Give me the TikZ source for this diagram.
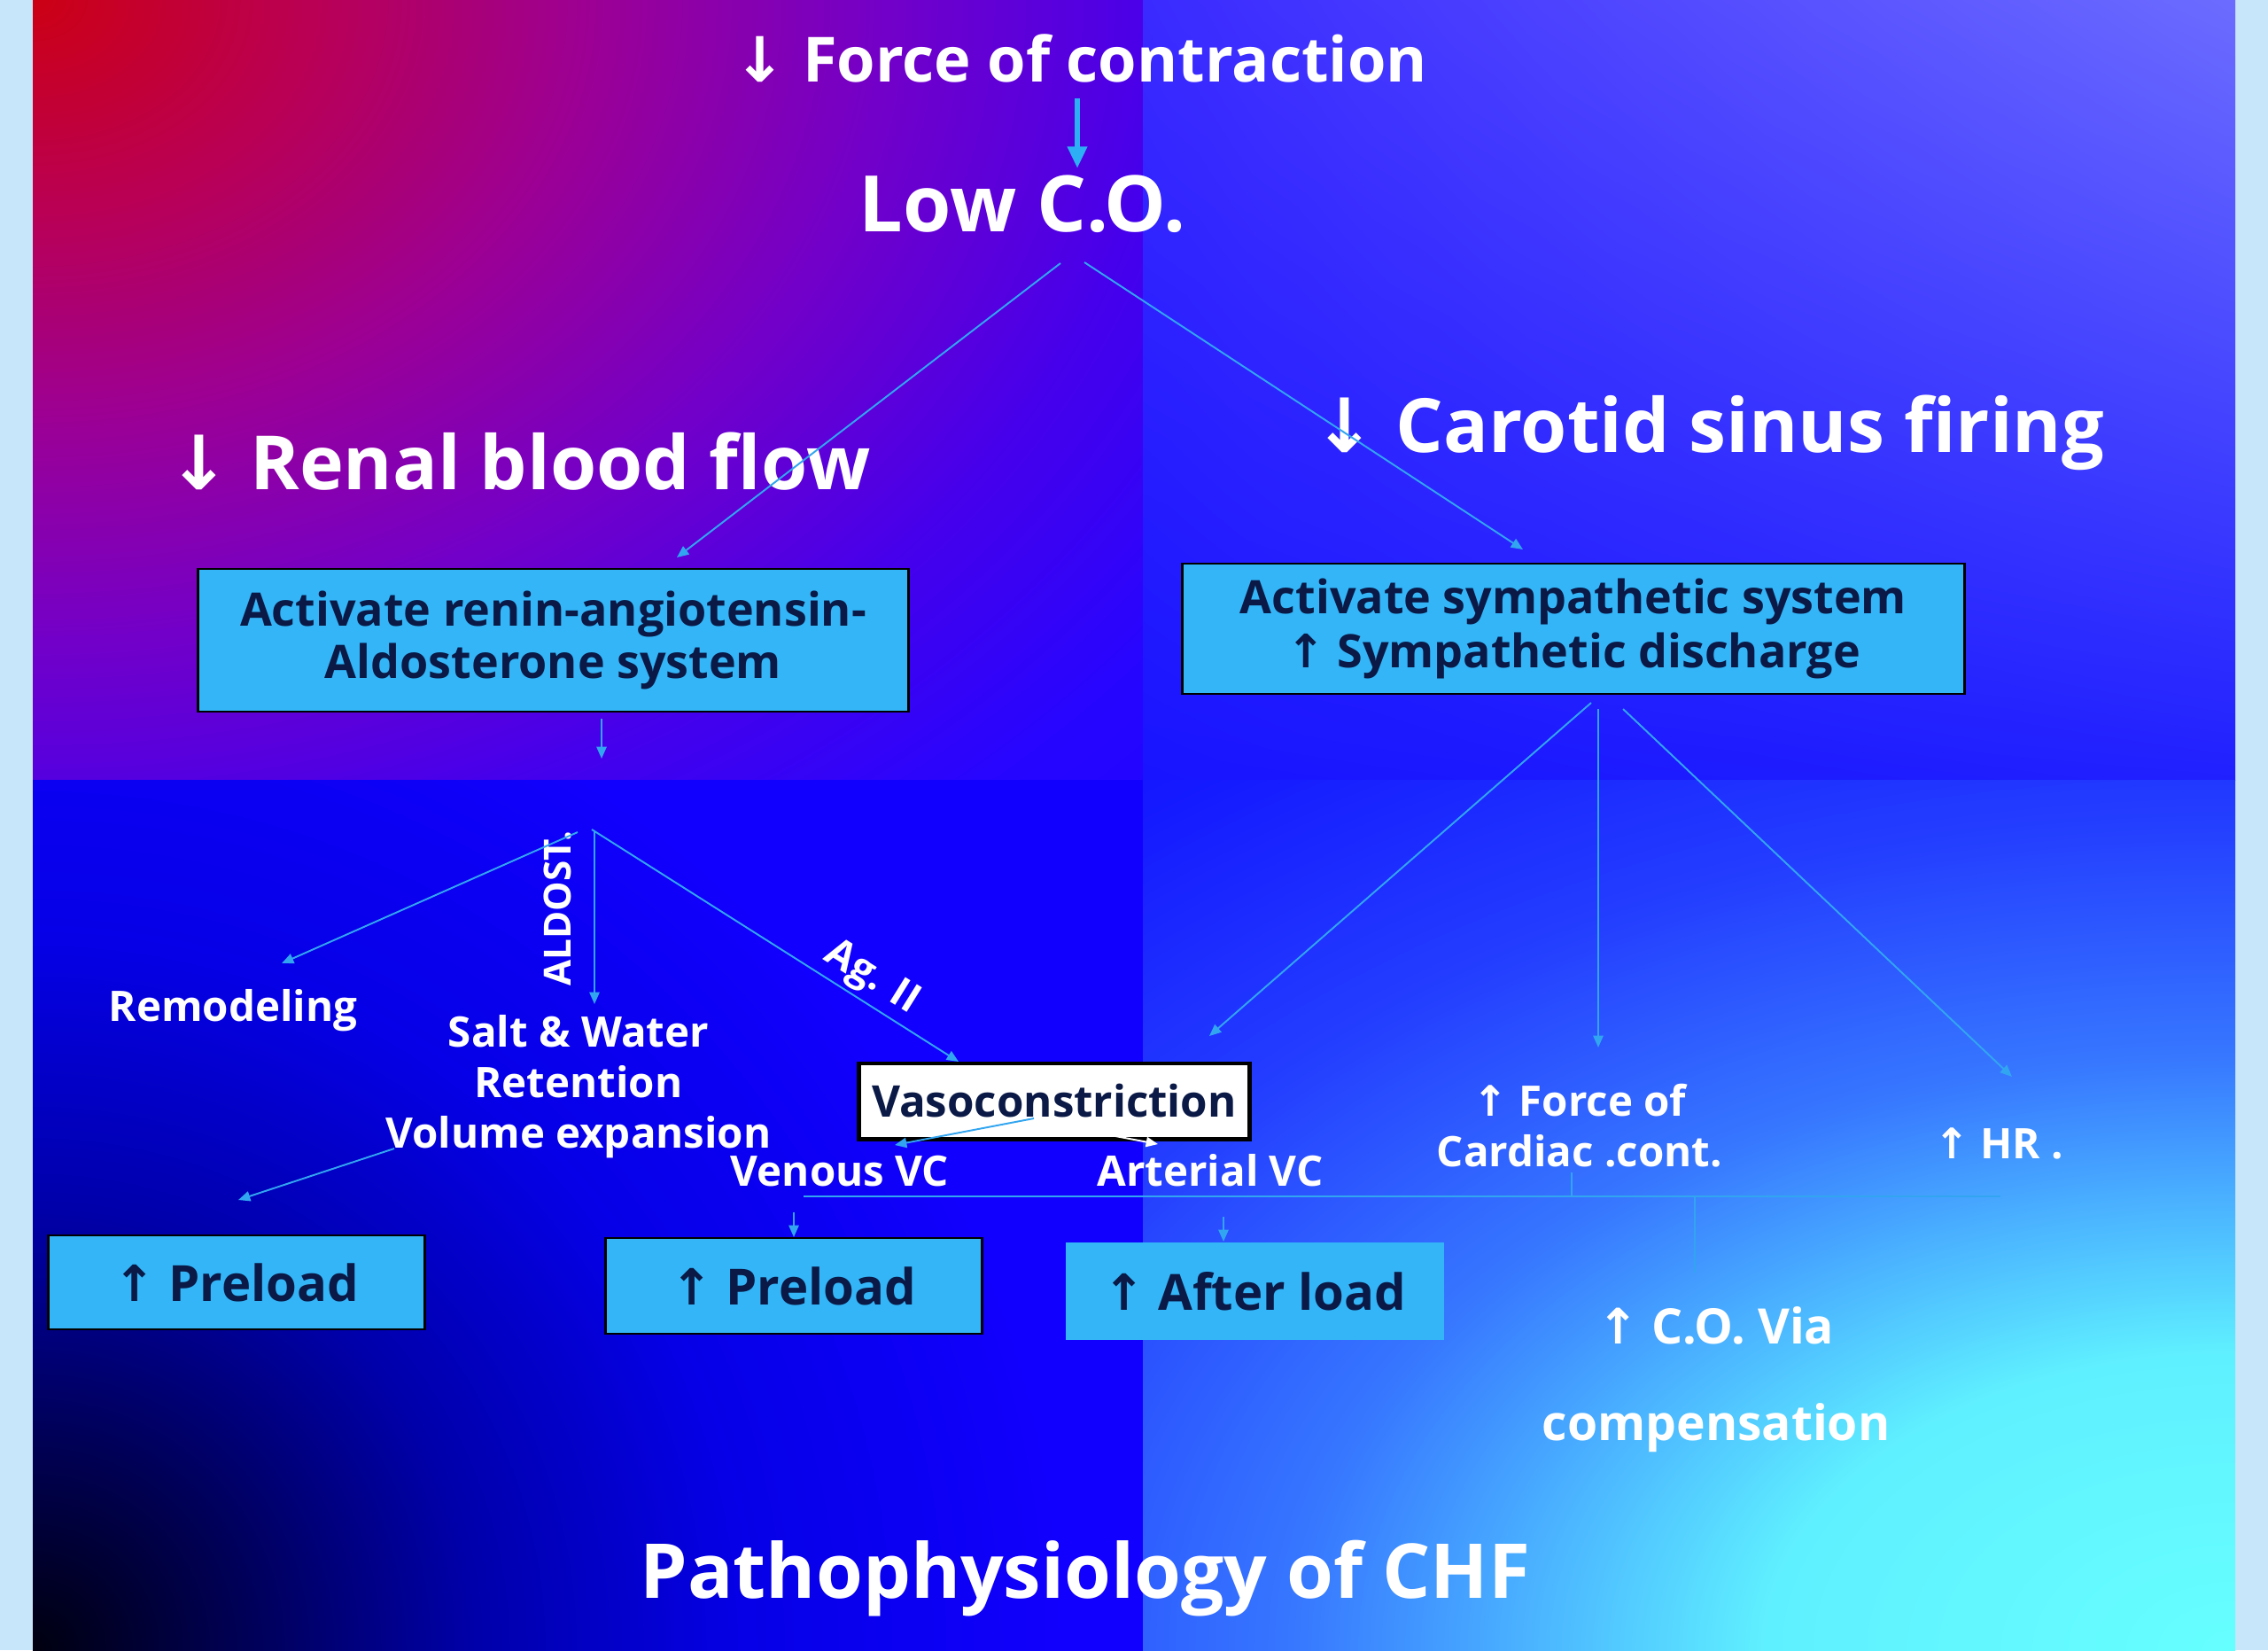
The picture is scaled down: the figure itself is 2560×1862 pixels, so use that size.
\documentclass[tikz,border=0pt]{standalone}
\usepackage{fontspec}
\setmainfont{Open Sans}
\newfontfamily\arrfont{DejaVu Sans}
\usetikzlibrary{arrows.meta,shadings}
\definecolor{strip}{RGB}{200,230,250}
\definecolor{boxfill}{RGB}{51,181,247}
\definecolor{boxtext}{RGB}{10,25,70}
\definecolor{connc}{RGB}{50,165,240}
\definecolor{bigc}{RGB}{45,175,245}
% top-left radial
\definecolor{tlA}{RGB}{204,0,20}
\definecolor{tlB}{RGB}{185,0,85}
\definecolor{tlC}{RGB}{155,0,150}
\definecolor{tlD}{RGB}{115,0,200}
\definecolor{tlE}{RGB}{70,0,235}
\definecolor{tlF}{RGB}{38,5,255}
\definecolor{tlG}{RGB}{25,5,255}
% bottom-left radial
\definecolor{blA}{RGB}{0,0,15}
\definecolor{blB}{RGB}{0,0,90}
\definecolor{blC}{RGB}{0,0,170}
\definecolor{blD}{RGB}{5,0,230}
\definecolor{blE}{RGB}{18,0,255}
% bottom-right radial
\definecolor{brA}{RGB}{102,255,255}
\definecolor{brB}{RGB}{95,240,255}
\definecolor{brC}{RGB}{55,120,255}
\definecolor{brD}{RGB}{35,60,255}
\definecolor{brE}{RGB}{20,25,255}
\definecolor{brF}{RGB}{16,16,255}
% top-right bilinear
\definecolor{trA}{RGB}{58,42,255}
\definecolor{trB}{RGB}{108,108,255}
\definecolor{trC}{RGB}{24,20,255}
\definecolor{trD}{RGB}{32,32,255}
\pgfdeclareradialshading{tlcorner}{\pgfpoint{0bp}{0bp}}{color(0bp)=(tlA); color(4bp)=(tlB); color(8bp)=(tlC); color(12bp)=(tlD); color(16bp)=(tlE); color(20bp)=(tlF); color(25bp)=(tlG); color(50bp)=(tlG)}
\pgfdeclareradialshading{blcorner}{\pgfpoint{0bp}{0bp}}{color(0bp)=(blA); color(3.7bp)=(blB); color(7.35bp)=(blC); color(11.8bp)=(blD); color(17.6bp)=(blE); color(50bp)=(blE)}
\pgfdeclareradialshading{brcorner}{\pgfpoint{0bp}{0bp}}{color(0bp)=(brA); color(5.75bp)=(brB); color(11.5bp)=(brC); color(16.35bp)=(brD); color(21.15bp)=(brE); color(25bp)=(brF); color(50bp)=(brF)}
\newcommand\dnar{{\arrfont\char"2193}}
\newcommand\upar{{\arrfont\char"2191}}
\begin{document}
\begin{tikzpicture}[x=0.01cm,y=-0.01cm,
  wt/.style={text=white,inner sep=0pt,anchor=base},
  f21/.style={font=\bfseries\fontsize{20}{24}\selectfont},
  f25/.style={font=\bfseries\fontsize{25}{30}\selectfont},
  f24/.style={font=\bfseries\fontsize{24}{29}\selectfont},
  f26/.style={font=\bfseries\fontsize{24.3}{29}\selectfont},
  f13/.style={font=\bfseries\fontsize{13.5}{16.2}\selectfont},
  f17/.style={font=\bfseries\fontsize{15.7}{31}\selectfont},
  arrowline/.style={draw=connc,line width=0.55pt,-{Triangle[length=3.8pt,width=3.2pt]}},
  plainline/.style={draw=connc,line width=0.55pt},
  bluebox/.style={fill=boxfill,draw=black,line width=0.8pt,text=boxtext,align=center,inner sep=0pt},
]
\useasboundingbox (0,0) rectangle (2560,1862);
\fill[strip] (0,0) rectangle (2560,1862);
% background quadrants
\begin{scope}
  \clip (37,0) rectangle (1290,880);
  \shade[shading=tlcorner] (37,0) ellipse [x radius=20cm, y radius=15cm];
\end{scope}
\shade[upper left=trA, upper right=trB, lower left=trC, lower right=trD]
  (1290,0) rectangle (2523,880);
\begin{scope}
  \clip (37,880) rectangle (1290,1862);
  \shade[shading=blcorner] (37,1862) circle [radius=17cm];
\end{scope}
\begin{scope}
  \clip (1290,880) rectangle (2523,1862);
  \shade[shading=brcorner] (2523,1862) ellipse [x radius=23cm, y radius=14.5cm];
\end{scope}

% titles
\node[wt,f21] (force) at (1220,92) {\dnar\ Force of contraction};
\node[wt,f25] (low) at (1154,261) {Low C.O.};
\node[wt,f24] (renal) at (586,552) {\dnar\ Renal blood flow};
\node[wt,f24] (carotid) at (1929,510) {\dnar\ Carotid sinus firing};

% boxes
\node[bluebox,minimum width=8.01cm,minimum height=1.61cm,font=\bfseries\fontsize{14.8}{16.8}\selectfont] (raas) at (624.5,722.5)
  {Activate renin-angiotensin-\\Aldosterone system};
\node[bluebox,minimum width=8.82cm,minimum height=1.47cm,font=\bfseries\fontsize{14.8}{17.6}\selectfont] (symp) at (1776,709.5)
  {Activate sympathetic system\\\upar\ Sympathetic discharge};

% RAAS effects
\node[wt,f13] (remod) at (263,1152) {Remodeling};
\node[wt,f13,anchor=center,align=center] (salt) at (653,1226) {Salt \& Water\\Retention\\Volume expansion};
\node[text=white,inner sep=0pt,rotate=90,font=\bfseries\fontsize{12}{14}\selectfont] (aldost) at (629,1025) {ALDOST.};
\node[text=white,inner sep=0pt,rotate=-32,font=\bfseries\fontsize{13}{15}\selectfont] (ag) at (984,1104) {Ag. II};
\node[fill=white,draw=black,line width=1.4pt,minimum width=4.40cm,minimum height=0.85cm,inner sep=0pt,text=boxtext,
      font=\bfseries\fontsize{14}{16}\selectfont] (vaso) at (1190,1242.5) {Vasoconstriction};
\node[wt,f13] (venous) at (948,1338) {Venous VC};
\node[wt,f13] (arterial) at (1366,1338) {Arterial VC};

% result boxes
\node[bluebox,minimum width=4.24cm,minimum height=1.06cm,font=\bfseries\fontsize{16}{19}\selectfont] (pre1) at (267,1447) {\upar\ Preload};
\node[bluebox,minimum width=4.24cm,minimum height=1.08cm,font=\bfseries\fontsize{16}{19}\selectfont] (pre2) at (896,1451) {\upar\ Preload};
\node[bluebox,draw=none,minimum width=4.27cm,minimum height=1.10cm,font=\bfseries\fontsize{16}{19}\selectfont] (after) at (1416.5,1457) {\upar\ After load};

% sympathetic effects
\node[wt,f13,anchor=center,align=center] (forcec) at (1783,1270) {\upar\ Force of\\Cardiac .cont.};
\node[wt,f13] (hr) at (2256,1307) {\upar\ HR .};
\node[wt,f17,anchor=center,align=center] (covia) at (1937,1557) {\upar\ C.O. Via\\compensation};

\node[wt,f26] (title) at (1225,1803) {Pathophysiology of CHF};

% connector coordinates
\coordinate (bigS) at (1216,111);   \coordinate (bigE) at (1216,190);
\coordinate (lowLs) at (1197,297);  \coordinate (lowLe) at (764,629);
\coordinate (lowRs) at (1224,296);  \coordinate (lowRe) at (1719,620);
\coordinate (raasS) at (679,811);   \coordinate (raasE) at (679,856);
\coordinate (hubL) at (652,939);    \coordinate (remE) at (318,1087);
\coordinate (hubM) at (671,937);    \coordinate (saltE) at (671,1133);
\coordinate (hubR) at (668,936);    \coordinate (vasoE) at (1082,1198);
\coordinate (volS) at (445,1296);   \coordinate (pre1E) at (269,1354);
\coordinate (vvS) at (1167,1262);   \coordinate (vvE) at (1010,1292);
\coordinate (avS) at (1259,1282);   \coordinate (avE) at (1307,1291);
\coordinate (brL) at (907,1350);    \coordinate (brR) at (2258,1350);
\coordinate (brF) at (1774,1323);   \coordinate (brFb) at (1774,1350);
\coordinate (brD) at (1913,1350);   \coordinate (brDe) at (1913,1436);
\coordinate (p2S) at (896,1368);    \coordinate (p2E) at (896,1396);
\coordinate (alS) at (1381,1373);   \coordinate (alE) at (1381,1401);
\coordinate (sLs) at (1796,793);    \coordinate (sLe) at (1365,1169);
\coordinate (sMs) at (1804,800);    \coordinate (sMe) at (1804,1182);
\coordinate (sRs) at (1832,800);    \coordinate (sRe) at (2271,1215);

\draw[draw=bigc,line width=1.9pt,-{Triangle[length=7pt,width=6pt]}] (bigS) -- (bigE);
\draw[arrowline] (lowLs) -- (lowLe);
\draw[arrowline] (lowRs) -- (lowRe);
\draw[arrowline] (raasS) -- (raasE);
\draw[arrowline] (hubL) -- (remE);
\draw[arrowline] (hubM) -- (saltE);
\draw[arrowline] (hubR) -- (vasoE);
\draw[arrowline] (volS) -- (pre1E);
\draw[arrowline] (vvS) -- (vvE);
\draw[arrowline,draw=white] (avS) -- (avE);
\draw[plainline] (brL) -- (brR);
\draw[plainline] (brF) -- (brFb);
\draw[plainline] (brD) -- (brDe);
\draw[arrowline] (p2S) -- (p2E);
\draw[arrowline] (alS) -- (alE);
\draw[arrowline] (sLs) -- (sLe);
\draw[arrowline] (sMs) -- (sMe);
\draw[arrowline] (sRs) -- (sRe);
\end{tikzpicture}
\end{document}
